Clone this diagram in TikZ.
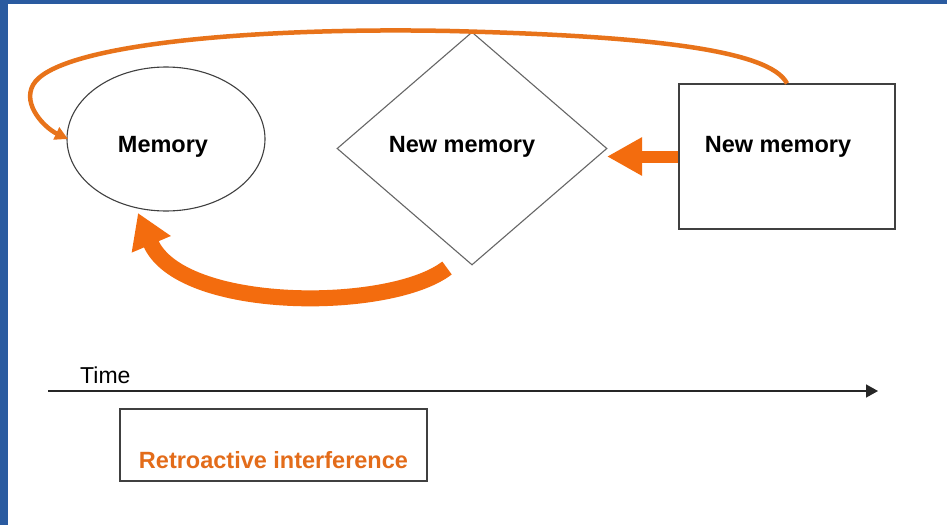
\documentclass[tikz,border=0pt]{standalone}
\usepackage{fontspec}
\setmainfont{Liberation Sans}
\usetikzlibrary{arrows.meta,shapes.geometric}
\definecolor{slideblue}{HTML}{2A5BA0}
\definecolor{bigorange}{HTML}{F36C0E}
\definecolor{arcorange}{HTML}{E8731A}
\definecolor{textorange}{HTML}{E36C1A}
\tikzset{
  outline/.style={draw=black!75, line width=1.1pt, inner sep=0pt},
  lbl/.style={font=\fontsize{23.5}{28}\selectfont\bfseries, anchor=base, inner sep=0pt},
  bigarrow/.style={draw=bigorange, line width=12pt, -{Triangle[length=35pt,width=36pt]}},
  curvearrow/.style={draw=bigorange, line width=16pt, -{Triangle[length=34pt,width=40pt]}},
  arcarrow/.style={draw=arcorange, line width=4.5pt, -{Triangle[length=13pt,width=13pt]}},
  timeline/.style={draw=black!85, line width=1.6pt, -{Triangle[length=12pt,width=13pt]}}
}
\begin{document}
\begin{tikzpicture}[x=1pt,y=-1pt]
\useasboundingbox (0,0) rectangle (947,525);
\fill[white] (0,0) rectangle (947,525);
\fill[slideblue] (0,0) rectangle (8,525);
\fill[slideblue] (0,0) rectangle (947,4);

% shapes
\node[outline, ellipse, minimum width=198pt, minimum height=144pt] (mem) at (166,139) {};
\node[lbl] (memt) at (163,152) {Memory};
\node[draw=black!60, line width=1.1pt, inner sep=0pt, diamond, minimum width=270pt, minimum height=233pt] (newd) at (472,148.5) {};
\node[lbl] (newdt) at (462,152) {New memory};
\node[outline, rectangle, minimum width=216pt, minimum height=145pt] (newr) at (787,156.5) {};
\node[lbl] (newrt) at (778,152) {New memory};

% connectors
\coordinate (bigtip) at (607,156.5);
\draw[bigarrow] (newr.west) -- (bigtip);

\coordinate (curvetail) at (447,268);
\coordinate (curvetip) at (138,213);
\draw[curvearrow] (curvetail) .. controls (390,312) and (180,312) .. (curvetip);

\coordinate (arctip) at (68,139);
\draw[arcarrow] (newr.north) .. controls (770,50) and (650,36) .. (450,31)
  .. controls (250,27) and (55,45) .. (33,85)
  .. controls (22,105) and (45,128) .. (arctip);

% time axis
\coordinate (tstart) at (48,391);
\coordinate (tend) at (878,391);
\draw[timeline] (tstart) -- (tend);
\node[font=\fontsize{23}{27}\selectfont, anchor=base west, inner sep=0pt] (time) at (80,383) {Time};

\node[outline, rectangle, minimum width=307pt, minimum height=72pt] (retro) at (273.5,445) {};
\node[lbl, text=textorange] (retrot) at (273.5,468) {Retroactive interference};
\end{tikzpicture}
\end{document}
